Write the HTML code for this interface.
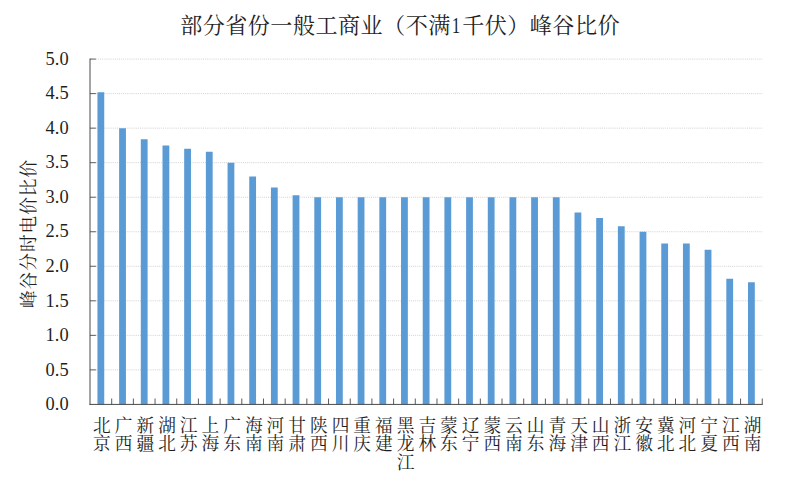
<!DOCTYPE html>
<html lang="zh-CN">
<head>
<meta charset="utf-8">
<title>部分省份一般工商业（不满1千伏）峰谷比价</title>
<style>
html,body{margin:0;padding:0;background:#fff;}
body{width:800px;height:481px;overflow:hidden;font-family:"Liberation Serif",serif;}
svg{display:block;}
</style>
</head>
<body>
<svg width="800" height="481" viewBox="0 0 800 481" role="img" aria-label="部分省份一般工商业（不满1千伏）峰谷比价 — 峰谷分时电价比价 — 北京 4.52 广西 4.0 新疆 3.84 湖北 3.75 江苏 3.7 上海 3.66 广东 3.5 海南 3.3 河南 3.14 甘肃 3.03 陕西 3.0 四川 3.0 重庆 3.0 福建 3.0 黑龙江 3.0 吉林 3.0 蒙东 3.0 辽宁 3.0 蒙西 3.0 云南 3.0 山东 3.0 青海 3.0 天津 2.78 山西 2.7 浙江 2.58 安徽 2.5 冀北 2.33 河北 2.33 宁夏 2.24 江西 1.82 湖南 1.77">
<desc>部分省份一般工商业（不满1千伏）峰谷比价 — 峰谷分时电价比价 — 北京 4.52 广西 4.0 新疆 3.84 湖北 3.75 江苏 3.7 上海 3.66 广东 3.5 海南 3.3 河南 3.14 甘肃 3.03 陕西 3.0 四川 3.0 重庆 3.0 福建 3.0 黑龙江 3.0 吉林 3.0 蒙东 3.0 辽宁 3.0 蒙西 3.0 云南 3.0 山东 3.0 青海 3.0 天津 2.78 山西 2.7 浙江 2.58 安徽 2.5 冀北 2.33 河北 2.33 宁夏 2.24 江西 1.82 湖南 1.77</desc>
<rect width="800" height="481" fill="#fff"/>
<path d="M95.90 369.89H762.25M95.90 335.35H762.25M95.90 300.82H762.25M95.90 266.28H762.25M95.90 231.75H762.25M95.90 197.22H762.25M95.90 162.68H762.25M95.90 128.15H762.25M95.90 93.61H762.25M95.90 59.08H762.25" fill="none" stroke="#d0d0d0" stroke-width="1" stroke-dasharray="1 1.1"/>
<path d="M97.44 404.42V92.23h6.80V404.42zM119.13 404.42V128.15h6.80V404.42zM140.81 404.42V139.20h6.80V404.42zM162.50 404.42V145.42h6.80V404.42zM184.18 404.42V148.87h6.80V404.42zM205.87 404.42V151.63h6.80V404.42zM227.56 404.42V162.68h6.80V404.42zM249.24 404.42V176.50h6.80V404.42zM270.93 404.42V187.55h6.80V404.42zM292.61 404.42V195.14h6.80V404.42zM314.30 404.42V197.22h6.80V404.42zM335.98 404.42V197.22h6.80V404.42zM357.67 404.42V197.22h6.80V404.42zM379.35 404.42V197.22h6.80V404.42zM401.04 404.42V197.22h6.80V404.42zM422.73 404.42V197.22h6.80V404.42zM444.41 404.42V197.22h6.80V404.42zM466.10 404.42V197.22h6.80V404.42zM487.78 404.42V197.22h6.80V404.42zM509.47 404.42V197.22h6.80V404.42zM531.15 404.42V197.22h6.80V404.42zM552.84 404.42V197.22h6.80V404.42zM574.52 404.42V212.41h6.80V404.42zM596.21 404.42V217.94h6.80V404.42zM617.89 404.42V226.22h6.80V404.42zM639.58 404.42V231.75h6.80V404.42zM661.27 404.42V243.49h6.80V404.42zM682.95 404.42V243.49h6.80V404.42zM704.64 404.42V249.71h6.80V404.42zM726.32 404.42V278.72h6.80V404.42zM748.01 404.42V282.17h6.80V404.42z" fill="#5b9bd5"/>
<path d="M90.00 58.58V404.92M89.50 404.42H762.75" fill="none" stroke="#4a4a4a" stroke-width="1"/>
<path d="M90.00 369.89h5.90M90.00 335.35h5.90M90.00 300.82h5.90M90.00 266.28h5.90M90.00 231.75h5.90M90.00 197.22h5.90M90.00 162.68h5.90M90.00 128.15h5.90M90.00 93.61h5.90M90.00 59.08h5.90M111.69 404.42v-5.90M133.37 404.42v-5.90M155.06 404.42v-5.90M176.74 404.42v-5.90M198.43 404.42v-5.90M220.11 404.42v-5.90M241.80 404.42v-5.90M263.48 404.42v-5.90M285.17 404.42v-5.90M306.85 404.42v-5.90M328.54 404.42v-5.90M350.23 404.42v-5.90M371.91 404.42v-5.90M393.60 404.42v-5.90M415.28 404.42v-5.90M436.97 404.42v-5.90M458.65 404.42v-5.90M480.34 404.42v-5.90M502.02 404.42v-5.90M523.71 404.42v-5.90M545.40 404.42v-5.90M567.08 404.42v-5.90M588.77 404.42v-5.90M610.45 404.42v-5.90M632.14 404.42v-5.90M653.82 404.42v-5.90M675.51 404.42v-5.90M697.19 404.42v-5.90M718.88 404.42v-5.90M740.56 404.42v-5.90M762.25 404.42v-5.90" fill="none" stroke="#3c3c3c" stroke-width="0.85"/>
<g fill="#1f1f1f" font-family="'Liberation Serif','Noto Serif CJK SC',serif">
<g font-size="22.1">
<text x="180.13" y="33.30" letter-spacing="0.46">部分省份一般工商业（不满</text>
<text x="451.75" y="32.80" font-size="22.7" textLength="8.5" lengthAdjust="spacingAndGlyphs">1</text>
<text x="462.13" y="33.30" letter-spacing="0.46">千伏）峰谷比价</text>
</g>
<g font-size="18.4">
<text x="45.60" y="410.15">0.0</text>
<text x="45.62" y="375.61">0.5</text>
<text x="45.60" y="341.08">1.0</text>
<text x="45.62" y="306.55">1.5</text>
<text x="45.60" y="272.01">2.0</text>
<text x="45.62" y="237.48">2.5</text>
<text x="45.60" y="202.94">3.0</text>
<text x="45.62" y="168.41">3.5</text>
<text x="45.60" y="133.88">4.0</text>
<text x="45.62" y="99.34">4.5</text>
<text x="45.60" y="64.81">5.0</text>
</g>
<g font-size="17.7">
<text x="93.09" y="431.58">北</text><text x="93.09" y="450.25">京</text>
<text x="114.78" y="431.58">广</text><text x="114.78" y="450.25">西</text>
<text x="136.46" y="431.58">新</text><text x="136.46" y="450.25">疆</text>
<text x="158.15" y="431.58">湖</text><text x="158.15" y="450.25">北</text>
<text x="179.83" y="431.58">江</text><text x="179.83" y="450.25">苏</text>
<text x="201.52" y="431.58">上</text><text x="201.52" y="450.25">海</text>
<text x="223.21" y="431.58">广</text><text x="223.21" y="450.25">东</text>
<text x="244.89" y="431.58">海</text><text x="244.89" y="450.25">南</text>
<text x="266.58" y="431.58">河</text><text x="266.58" y="450.25">南</text>
<text x="288.26" y="431.58">甘</text><text x="288.26" y="450.25">肃</text>
<text x="309.95" y="431.58">陕</text><text x="309.95" y="450.25">西</text>
<text x="331.63" y="431.58">四</text><text x="331.63" y="450.25">川</text>
<text x="353.32" y="431.58">重</text><text x="353.32" y="450.25">庆</text>
<text x="375.00" y="431.58">福</text><text x="375.00" y="450.25">建</text>
<text x="396.69" y="431.58">黑</text><text x="396.69" y="450.25">龙</text><text x="396.69" y="468.92">江</text>
<text x="418.38" y="431.58">吉</text><text x="418.38" y="450.25">林</text>
<text x="440.06" y="431.58">蒙</text><text x="440.06" y="450.25">东</text>
<text x="461.75" y="431.58">辽</text><text x="461.75" y="450.25">宁</text>
<text x="483.43" y="431.58">蒙</text><text x="483.43" y="450.25">西</text>
<text x="505.12" y="431.58">云</text><text x="505.12" y="450.25">南</text>
<text x="526.80" y="431.58">山</text><text x="526.80" y="450.25">东</text>
<text x="548.49" y="431.58">青</text><text x="548.49" y="450.25">海</text>
<text x="570.17" y="431.58">天</text><text x="570.17" y="450.25">津</text>
<text x="591.86" y="431.58">山</text><text x="591.86" y="450.25">西</text>
<text x="613.54" y="431.58">浙</text><text x="613.54" y="450.25">江</text>
<text x="635.23" y="431.58">安</text><text x="635.23" y="450.25">徽</text>
<text x="656.92" y="431.58">冀</text><text x="656.92" y="450.25">北</text>
<text x="678.60" y="431.58">河</text><text x="678.60" y="450.25">北</text>
<text x="700.29" y="431.58">宁</text><text x="700.29" y="450.25">夏</text>
<text x="721.97" y="431.58">江</text><text x="721.97" y="450.25">西</text>
<text x="743.66" y="431.58">湖</text><text x="743.66" y="450.25">南</text>
</g>
<g transform="translate(28.50 233.90) rotate(-90)"><text x="-74.16" y="6.73" font-size="17.7" letter-spacing="0.96">峰谷分时电价比价</text></g>
</g>
</svg>
</body>
</html>
